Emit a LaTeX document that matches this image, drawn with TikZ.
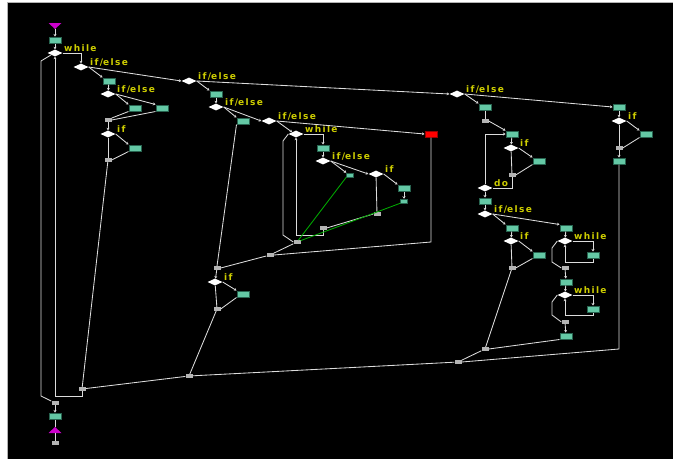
\documentclass[tikz,border=0pt]{standalone}
\usepackage{fontspec}
\newfontfamily\lblfont[LetterSpace=15]{DejaVu Sans Bold}
\usetikzlibrary{shapes.geometric,arrows.meta,calc}
\definecolor{boxfill}{RGB}{100,200,165}
\definecolor{boxline}{RGB}{40,100,80}
\definecolor{mrgfill}{RGB}{180,180,180}
\definecolor{linecol}{RGB}{220,220,220}
\definecolor{lblcol}{RGB}{205,205,0}
\definecolor{brkcol}{RGB}{0,170,0}
\definecolor{termcol}{RGB}{204,0,204}
\begin{document}
\begin{tikzpicture}[x=1pt,y=-1pt,
  box/.style={rectangle, fill=boxfill, draw=boxline, line width=0.5pt,
    minimum width=12.5pt, minimum height=6.5pt, inner sep=0pt},
  sbox/.style={box, minimum width=7pt, minimum height=4pt},
  redbox/.style={box, fill=red, draw=red!60!black},
  mrg/.style={rectangle, fill=mrgfill, minimum width=7pt, minimum height=3.5pt, inner sep=0pt},
  dec/.style={diamond, fill=white, minimum width=15pt, minimum height=7pt,
    inner sep=0pt, shape aspect=2},
  lbl/.style={text=lblcol, font=\lblfont\fontsize{9}{9}\selectfont,
    anchor=base west, inner sep=0pt},
  flow/.style={draw=linecol, line width=0.85pt},
  go/.style={flow, -{Stealth[length=2.5pt,width=3pt]}},
  brk/.style={draw=brkcol, line width=0.85pt}]
\useasboundingbox (0,0) rectangle (673,459);
\fill[white] (0,0) rectangle (673,459);
\fill[black] (7,2.5) rectangle (673,459);
\draw[gray!60, line width=0.8pt] (7,459) -- (7,2.5) -- (673,2.5);

% ---------- left part ----------
\node[box] (b0) at (55,40) {};
\node[dec] (w0) at (55,53) {};
\node[dec] (d1) at (81,67) {};
\node[box] (b1) at (109,81) {};
\node[dec] (d2) at (108,94) {};
\node[box] (b2) at (135,108) {};
\node[box] (b3) at (162,108) {};
\node[mrg] (m1) at (108,120) {};
\node[dec] (d3) at (108,134) {};
\node[box] (b4) at (135,148) {};
\node[mrg] (m2) at (108,160) {};

% ---------- middle part ----------
\node[dec] (d4) at (189,81) {};
\node[box] (b5) at (216,94) {};
\node[dec] (d5) at (216,107) {};
\node[box] (b6) at (243,121) {};
\node[dec] (d6) at (269,121) {};
\node[dec] (w1) at (296,134) {};
\node[box] (b7) at (323,148) {};
\node[dec] (d7) at (323,161) {};
\node[sbox] (s1) at (350,175) {};
\node[dec] (d8) at (376,174) {};
\node[box] (b8) at (404,188) {};
\node[sbox] (s2) at (404,201) {};
\node[mrg] (m3) at (377,214) {};
\node[mrg] (m4) at (323,228) {};
\node[mrg] (m5) at (297,242) {};
\node[redbox] (rb) at (431,134) {};
\node[mrg] (m6) at (270,255) {};
\node[mrg] (m7) at (217,268) {};
\node[dec] (d9) at (215,282) {};
\node[box] (b9) at (243,294) {};
\node[mrg] (m8) at (217,309) {};
\node[mrg] (m9) at (189,376) {};
\node[mrg] (m10) at (82,389) {};
\node[mrg] (m11) at (55,403) {};
\node[box] (b10) at (55,416) {};
\node[mrg] (m12) at (55,443) {};

% ---------- right part ----------
\node[dec] (d10) at (457,94) {};
\node[box] (b11) at (485,107) {};
\node[mrg] (m13) at (485,121) {};
\node[box] (b12) at (512,134) {};
\node[dec] (d11) at (511,148) {};
\node[box] (b13) at (539,161) {};
\node[mrg] (m14) at (512,175) {};
\node[dec] (dd) at (485,188) {};
\node[box] (b14) at (485,201) {};
\node[dec] (d12) at (485,214) {};
\node[box] (b15) at (512,228) {};
\node[dec] (d13) at (511,241) {};
\node[box] (b16) at (539,255) {};
\node[mrg] (m15) at (512,268) {};
\node[box] (b17) at (566,228) {};
\node[dec] (w2) at (565,241) {};
\node[box] (b18) at (593,255) {};
\node[mrg] (m16) at (565,268) {};
\node[box] (b19) at (566,282) {};
\node[dec] (w3) at (565,295) {};
\node[box] (b20) at (593,309) {};
\node[mrg] (m17) at (565,322) {};
\node[box] (b21) at (566,336) {};
\node[mrg] (m18) at (485,349) {};
\node[mrg] (m19) at (458,362) {};
\node[box] (b22) at (619,107) {};
\node[dec] (d14) at (619,121) {};
\node[box] (b23) at (646,134) {};
\node[mrg] (m20) at (619,148) {};
\node[box] (b24) at (619,161) {};

% ---------- start and end markers ----------
\fill[termcol] (48.5,23) -- (61.5,23) -- (55,29) -- cycle;
\coordinate (tS) at (55,29);
\fill[termcol] (48.5,433) -- (61.5,433) -- (55,427) -- cycle;
\coordinate (tEtop) at (55,427);
\coordinate (tEbot) at (55,433);

% ---------- labels ----------
\foreach \n/\t in {w0/while, d1/if\slash else, d2/if\slash else, d3/if,
    d4/if\slash else, d5/if\slash else, d6/if\slash else, w1/while,
    d7/if\slash else, d8/if, d9/if, d10/if\slash else, d11/if, dd/do,
    d12/if\slash else, d13/if, w2/while, w3/while, d14/if}
  \node[lbl] (\n-l) at ([shift={(9,-1.5)}]\n.center) {\t};

% ---------- helper corners ----------
\coordinate (c1) at (82,396);
\coordinate (c2) at (41,61);
\coordinate (c3) at (41,396);
\coordinate (c4) at (431,242);
\coordinate (c5) at (283,141);
\coordinate (c6) at (283,235);
\coordinate (c7) at (323,235);
\coordinate (c8) at (619,349);
\coordinate (c9) at (593,262);
\coordinate (c10) at (552,248);
\coordinate (c11) at (552,262);
\coordinate (c12) at (593,315);
\coordinate (c13) at (552,302);
\coordinate (c14) at (552,315);

% ---------- connectors: left ----------
\draw[go] (tS) -- (b0);
\draw[go] (b0) -- (w0);
\draw[go] (w0.east) -| (d1.north);
\draw[go] (d1.east) -- (d4.west);
\draw[go] (d1.east) -- (b1.north west);
\draw[go] (b1) -- (d2);
\draw[go] (d2.east) -- (b2.north west);
\draw[go] (d2.east) -- (b3.north west);
\draw[flow] (b2.south west) -- (m1.north east);
\draw[flow] (b3.south west) -- (m1.east);
\draw[go] (m1) -- (d3);
\draw[go] (d3.east) -- (b4.north west);
\draw[flow] (d3) -- (m2);
\draw[flow] (b4.south west) -- (m2.east);
\draw[flow] (m2) -- (m10);
\draw[go] (m10) -- (c1) -| (w0.south);
\draw[flow] (w0.south west) -- (c2) -- (c3) -- (m11.north west);
\draw[go] (m11) -- (b10);
\draw[flow] (b10) -- (tEtop);
\draw[flow] (tEbot) -- (m12);

% ---------- connectors: middle ----------
\draw[go] (d4.east) -- (d10.west);
\draw[go] (d4.east) -- (b5.north west);
\draw[go] (b5) -- (d5);
\draw[go] (d5.east) -- (b6.north west);
\draw[go] (d5.east) -- (d6.west);
\draw[flow] (b6.south west) -- (m7.north);
\draw[go] (d6.east) -- (rb.west);
\draw[go] (d6.east) -- (w1.north west);
\draw[go] (w1.east) -| (b7.north);
\draw[go] (b7) -- (d7);
\draw[go] (d7.east) -- (s1.north west);
\draw[go] (d7.east) -- (d8.west);
\draw[go] (d8.east) -- (b8.north west);
\draw[go] (b8) -- (s2);
\draw[flow] (d8) -- (m3);
\draw[flow] (m3.west) -- (m4.east);
\draw[go] (m4) -- (c7) -| (w1.south);
\draw[flow] (w1.west) -- (c5) -- (c6) -- (m5.west);
\draw[brk] (s1.south west) -- (m5);
\draw[brk] (s2.south west) -- (m5);
\draw[flow] (m5) -- (m6);
\draw[flow] (rb) -- (c4) -- (m6.east);
\draw[flow] (m6) -- (m7.east);
\draw[go] (m7) -- (d9);
\draw[go] (d9.east) -- (b9.north west);
\draw[flow] (d9) -- (m8);
\draw[flow] (b9.south west) -- (m8.east);
\draw[flow] (m8) -- (m9);
\draw[flow] (m9) -- (m10);

% ---------- connectors: right ----------
\draw[go] (d10.east) -- (b22.west);
\draw[go] (d10.east) -- (b11.north west);
\draw[flow] (b11) -- (m13);
\draw[go] (m13.east) -- (b12.north west);
\draw[go] (b12) -- (d11);
\draw[go] (d11.east) -- (b13.north west);
\draw[flow] (d11) -- (m14);
\draw[flow] (b13.south west) -- (m14.east);
\draw[flow] (m14) |- (dd.east);
\draw[go] (dd.north) |- (b12.west);
\draw[go] (dd) -- (b14);
\draw[go] (b14) -- (d12);
\draw[go] (d12.east) -- (b15.north west);
\draw[go] (d12.east) -- (b17.north west);
\draw[go] (b15) -- (d13);
\draw[go] (d13.east) -- (b16.north west);
\draw[flow] (d13) -- (m15);
\draw[flow] (b16.south west) -- (m15.east);
\draw[go] (b17) -- (w2);
\draw[go] (w2.east) -| (b18.north);
\draw[go] (b18) -- (c9) -| (w2.south);
\draw[flow] (w2.west) -- (c10) -- (c11) -- (m16.west);
\draw[go] (m16) -- (b19);
\draw[go] (b19) -- (w3);
\draw[go] (w3.east) -| (b20.north);
\draw[go] (b20) -- (c12) -| (w3.south);
\draw[flow] (w3.west) -- (c13) -- (c14) -- (m17.west);
\draw[go] (m17) -- (b21);
\draw[flow] (m15) -- (m18);
\draw[flow] (b21.south west) -- (m18.east);
\draw[flow] (m18) -- (m19);
\draw[flow] (m19) -- (m9);
\draw[go] (b22) -- (d14);
\draw[go] (d14.east) -- (b23.north west);
\draw[flow] (d14) -- (m20);
\draw[flow] (b23.south west) -- (m20.east);
\draw[go] (m20) -- (b24);
\draw[flow] (b24) -- (c8) -- (m19.east);
\end{tikzpicture}
\end{document}
